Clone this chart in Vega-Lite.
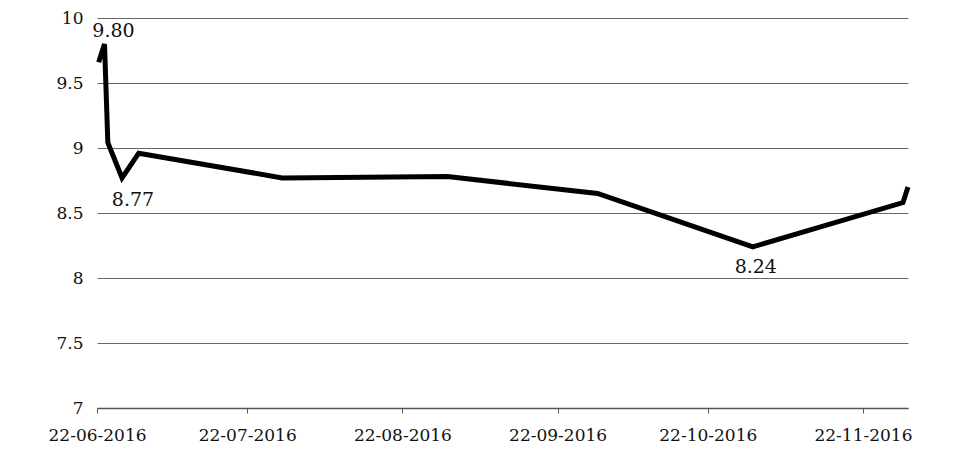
{
  "$schema": "https://vega.github.io/schema/vega-lite/v6.json",
  "width": 811,
  "height": 390,
  "autosize": "none",
  "padding": {"left": 97, "top": 18, "right": 48, "bottom": 56},
  "background": "white",
  "config": {"view": {"stroke": null}},
  "data": {
    "values": [
      {"date": "2016-06-22T08:00:00", "rate": 9.66, "label": ""},
      {"date": "2016-06-23T12:00:00", "rate": 9.80, "label": "9.80"},
      {"date": "2016-06-24T04:00:00", "rate": 9.04, "label": ""},
      {"date": "2016-06-27T00:00:00", "rate": 8.77, "label": "8.77"},
      {"date": "2016-06-30T08:00:00", "rate": 8.96, "label": ""},
      {"date": "2016-07-29T00:00:00", "rate": 8.77, "label": ""},
      {"date": "2016-08-31T00:00:00", "rate": 8.78, "label": ""},
      {"date": "2016-09-30T00:00:00", "rate": 8.65, "label": ""},
      {"date": "2016-10-31T00:00:00", "rate": 8.24, "label": "8.24"},
      {"date": "2016-11-30T00:00:00", "rate": 8.58, "label": ""},
      {"date": "2016-12-01T00:00:00", "rate": 8.70, "label": ""}
    ]
  },
  "encoding": {
    "x": {
      "field": "date",
      "type": "temporal",
      "scale": {"domain": [{"year": 2016, "month": 6, "date": 22}, {"year": 2016, "month": 12, "date": 1}]},
      "axis": {
        "title": null,
        "grid": false,
        "values": [
          {"year": 2016, "month": 6, "date": 22},
          {"year": 2016, "month": 7, "date": 22},
          {"year": 2016, "month": 8, "date": 22},
          {"year": 2016, "month": 9, "date": 22},
          {"year": 2016, "month": 10, "date": 22},
          {"year": 2016, "month": 11, "date": 22}
        ],
        "format": "%d-%m-%Y",
        "labelFont": "DejaVu Serif",
        "labelFontSize": 17,
        "labelColor": "#111",
        "labelPadding": 14,
        "domainColor": "#555",
        "domainWidth": 1.5,
        "tickColor": "#555",
        "tickSize": 5,
        "labelFlush": false
      }
    },
    "y": {
      "field": "rate",
      "type": "quantitative",
      "scale": {"domain": [7, 10], "nice": false, "zero": false},
      "axis": {
        "title": null,
        "values": [7, 7.5, 8, 8.5, 9, 9.5, 10],
        "labelExpr": "toString(datum.value)",
        "domain": false,
        "ticks": false,
        "labelPadding": 14,
        "labelFont": "DejaVu Serif",
        "labelFontSize": 17,
        "labelColor": "#111",
        "gridColor": "#666",
        "gridWidth": 1.2,
        "gridOpacity": 1
      }
    }
  },
  "layer": [
    {
      "mark": {"type": "line", "color": "black", "strokeWidth": 5, "strokeJoin": "miter", "strokeCap": "butt"}
    },
    {
      "transform": [{"filter": "datum.label == '9.80'"}],
      "mark": {"type": "text", "font": "DejaVu Serif", "fontSize": 19, "color": "#111", "dx": 9, "dy": -13},
      "encoding": {"text": {"field": "label"}}
    },
    {
      "transform": [{"filter": "datum.label == '8.77'"}],
      "mark": {"type": "text", "font": "DejaVu Serif", "fontSize": 19, "color": "#111", "dx": 11, "dy": 22},
      "encoding": {"text": {"field": "label"}}
    },
    {
      "transform": [{"filter": "datum.label == '8.24'"}],
      "mark": {"type": "text", "font": "DejaVu Serif", "fontSize": 19, "color": "#111", "dx": 3, "dy": 20},
      "encoding": {"text": {"field": "label"}}
    }
  ]
}
